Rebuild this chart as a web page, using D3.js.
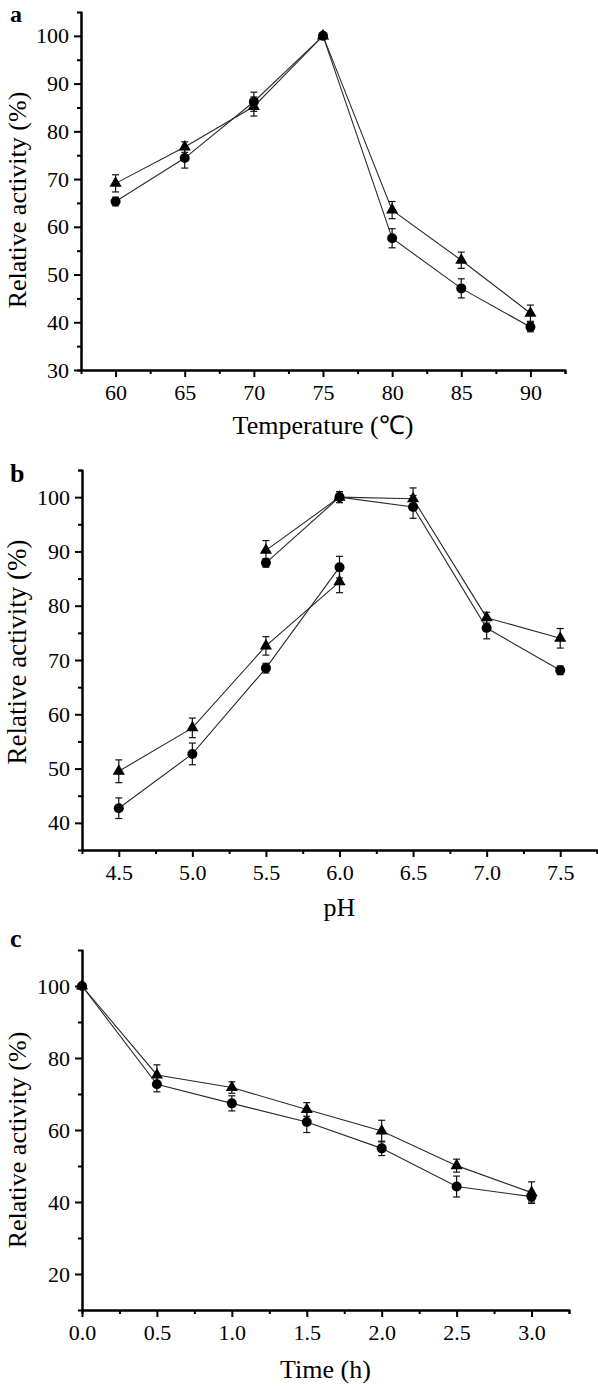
<!DOCTYPE html>
<html><head><meta charset="utf-8">
<script src="https://cdn.jsdelivr.net/npm/d3@7"></script>
<style>
html,body{margin:0;padding:0;background:#fff;}
svg{display:block;}
text{font-family:"Liberation Serif","Times New Roman",Times,serif;fill:#000;}
</style></head>
<body>
<svg id="chart" width="598" height="1386"></svg>
<script>
// ---- Panel a: temperature ----
const tempX = [60, 65, 70, 75, 80, 85, 90];
const tempTri = [69.1, 76.7, 85.2, 100, 63.5, 53.0, 41.9];
const tempTriErr = [1.8, 1.1, 2.0, 0.5, 1.8, 1.7, 1.7];
const tempCir = [65.3, 74.4, 86.2, 100, 57.6, 47.1, 39.0];
const tempCirErr = [0.9, 2.1, 2.0, 0.5, 2.0, 2.0, 1.0];
const tempTicks = [60, 65, 70, 75, 80, 85, 90];
const tempYTicks = [30, 40, 50, 60, 70, 80, 90, 100];

// ---- Panel b: pH (two buffer segments) ----
const phX1 = [4.5, 5.0, 5.5, 6.0];
const phTri1 = [49.5, 57.5, 72.6, 84.4];
const phTri1Err = [2.1, 1.8, 1.7, 2.0];
const phCir1 = [42.7, 52.7, 68.5, 87.1];
const phCir1Err = [1.9, 2.0, 0.9, 2.0];
const phX2 = [5.5, 6.0, 6.5, 7.0, 7.5];
const phTri2 = [90.2, 100, 99.7, 77.8, 74.0];
const phTri2Err = [1.8, 1.0, 2.0, 1.0, 1.8];
const phCir2 = [87.9, 100, 98.2, 75.9, 68.1];
const phCir2Err = [0.8, 1.0, 2.1, 2.0, 0.8];
const phTicks = [4.5, 5.0, 5.5, 6.0, 6.5, 7.0, 7.5];
const phYTicks = [40, 50, 60, 70, 80, 90, 100];

// ---- Panel c: time ----
const timeX = [0, 0.5, 1.0, 1.5, 2.0, 2.5, 3.0];
const timeTri = [100, 75.3, 71.8, 65.7, 59.7, 50.1, 42.6];
const timeTriErr = [0.5, 2.8, 1.6, 1.9, 3.0, 1.8, 3.0];
const timeCir = [100, 72.7, 67.4, 62.2, 54.9, 44.3, 41.5];
const timeCirErr = [0.5, 2.1, 2.1, 2.9, 2.0, 2.9, 1.5];
const timeTicks = [0, 0.5, 1.0, 1.5, 2.0, 2.5, 3.0];
const timeYTicks = [20, 40, 60, 80, 100];

const svg = d3.select("#chart");
const FONT = '"Liberation Serif","Times New Roman",Times,serif';

function panel(cfg) {
  const g = svg.append("g");
  const x = d3.scaleLinear().domain(cfg.xDomain).range(cfg.xRange);
  const y = d3.scaleLinear().domain(cfg.yDomain).range(cfg.yRange);

  const xAxisMinor = d3.axisBottom(x).tickValues(cfg.xMinor).tickSize(4).tickFormat("");
  const yAxisMinor = d3.axisLeft(y).tickValues(cfg.yMinor).tickSize(4).tickFormat("");
  const xAxis = d3.axisBottom(x).tickValues(cfg.xTicks).tickSize(7).tickPadding(7)
    .tickFormat(cfg.xFmt).tickSizeOuter(0);
  const yAxis = d3.axisLeft(y).tickValues(cfg.yTicks).tickSize(7).tickPadding(5)
    .tickFormat(d3.format("d")).tickSizeOuter(0);

  const base = cfg.yRange[0];
  const left = cfg.xRange[0];
  [xAxisMinor, xAxis].forEach(ax => {
    const a = g.append("g").attr("transform", `translate(0,${base})`).call(ax)
      .attr("font-family", FONT);
    a.select(".domain").attr("stroke-width", 2).attr("stroke", "#000");
    a.selectAll(".tick line").attr("stroke-width", 2).attr("stroke", "#000");
    a.selectAll("text").style("font-size", cfg.tickFont + "px");
  });
  [yAxisMinor, yAxis].forEach(ax => {
    const a = g.append("g").attr("transform", `translate(${left},0)`).call(ax)
      .attr("font-family", FONT);
    a.select(".domain").attr("stroke-width", 2).attr("stroke", "#000");
    a.selectAll(".tick line").attr("stroke-width", 2).attr("stroke", "#000");
    a.selectAll("text").style("font-size", cfg.tickFont + "px");
  });

  const line = d3.line().x(d => x(d[0])).y(d => y(d[1]));
  const tri = d3.symbol().type(d3.symbolTriangle).size(64);

  cfg.series.forEach(s => {
    const pts = s.xs.map((xv, i) => [xv, s.ys[i], s.err[i]]);
    g.append("path").datum(pts).attr("d", line)
      .attr("fill", "none").attr("stroke", "#2a2a2a").attr("stroke-width", 1.1);
    const eb = g.append("g").attr("stroke", "#111").attr("stroke-width", 1.2);
    pts.forEach(p => {
      const cx = x(p[0]), y1 = y(p[1] + p[2]), y2 = y(p[1] - p[2]);
      eb.append("line").attr("x1", cx).attr("x2", cx).attr("y1", y1).attr("y2", y2);
      eb.append("line").attr("x1", cx - 3.5).attr("x2", cx + 3.5).attr("y1", y1).attr("y2", y1);
      eb.append("line").attr("x1", cx - 3.5).attr("x2", cx + 3.5).attr("y1", y2).attr("y2", y2);
    });
    if (s.shape === "tri") {
      g.selectAll(null).data(pts).enter().append("path")
        .attr("d", tri).attr("transform", d => `translate(${x(d[0])},${y(d[1])})`)
        .attr("fill", "#000");
    } else {
      g.selectAll(null).data(pts).enter().append("circle")
        .attr("cx", d => x(d[0])).attr("cy", d => y(d[1])).attr("r", 5)
        .attr("fill", "#000");
    }
  });

  g.append("text").attr("x", (cfg.xRange[0] + cfg.xRange[1]) / 2).attr("y", cfg.xTitleY)
    .attr("text-anchor", "middle").style("font-size", cfg.titleFont + "px").text(cfg.xTitle);
  g.append("text").attr("transform", `translate(${cfg.yTitleX},${cfg.yTitleCY}) rotate(-90)`)
    .attr("text-anchor", "middle").attr("dy", "0.35em")
    .style("font-size", cfg.yTitleFont + "px").text("Relative activity (%)");
  g.append("text").attr("x", 10).attr("y", cfg.labelY)
    .style("font-size", cfg.labelFont + "px").style("font-weight", "bold").text(cfg.label);
}

panel({
  label: "a", labelY: 22, labelFont: 24,
  xDomain: [57.5, 92.5], xRange: [81, 565],
  yDomain: [30, 105], yRange: [370, 12],
  xTicks: tempTicks, xMinor: [62.5, 67.5, 72.5, 77.5, 82.5, 87.5, 92.5],
  yTicks: tempYTicks, yMinor: [35, 45, 55, 65, 75, 85, 95],
  xFmt: d3.format("d"), tickFont: 22, titleFont: 26, yTitleFont: 26,
  xTitle: "Temperature (\u2103)", xTitleY: 434, yTitleX: 17, yTitleCY: 200,
  series: [
    {xs: tempX, ys: tempTri, err: tempTriErr, shape: "tri"},
    {xs: tempX, ys: tempCir, err: tempCirErr, shape: "cir"}
  ]
});

panel({
  label: "b", labelY: 482, labelFont: 26,
  xDomain: [4.25, 7.75], xRange: [82, 597],
  yDomain: [35, 105], yRange: [850, 470],
  xTicks: phTicks, xMinor: [4.75, 5.25, 5.75, 6.25, 6.75, 7.25, 7.75],
  yTicks: phYTicks, yMinor: [45, 55, 65, 75, 85, 95, 105],
  xFmt: d3.format(".1f"), tickFont: 22, titleFont: 26, yTitleFont: 27,
  xTitle: "pH", xTitleY: 916, yTitleX: 17, yTitleCY: 652,
  series: [
    {xs: phX1, ys: phTri1, err: phTri1Err, shape: "tri"},
    {xs: phX1, ys: phCir1, err: phCir1Err, shape: "cir"},
    {xs: phX2, ys: phTri2, err: phTri2Err, shape: "tri"},
    {xs: phX2, ys: phCir2, err: phCir2Err, shape: "cir"}
  ]
});

panel({
  label: "c", labelY: 947, labelFont: 26,
  xDomain: [0, 3.25], xRange: [82, 569],
  yDomain: [10, 110], yRange: [1310, 950],
  xTicks: timeTicks, xMinor: [0.25, 0.75, 1.25, 1.75, 2.25, 2.75, 3.25],
  yTicks: timeYTicks, yMinor: [30, 50, 70, 90],
  xFmt: d3.format(".1f"), tickFont: 22, titleFont: 26, yTitleFont: 26,
  xTitle: "Time (h)", xTitleY: 1378, yTitleX: 17, yTitleCY: 1140,
  series: [
    {xs: timeX, ys: timeTri, err: timeTriErr, shape: "tri"},
    {xs: timeX, ys: timeCir, err: timeCirErr, shape: "cir"}
  ]
});
</script>
</body></html>
